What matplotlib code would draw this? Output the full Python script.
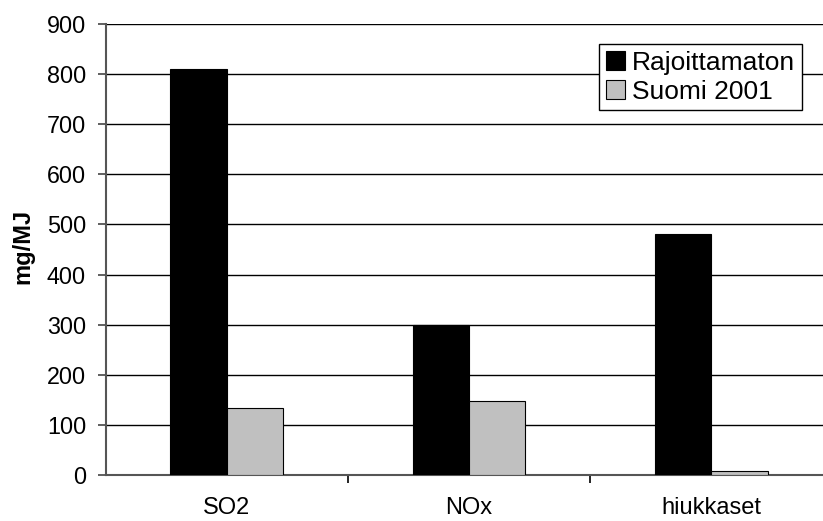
import matplotlib
matplotlib.use("Agg")
import matplotlib.pyplot as plt
import numpy as np

plt.rcParams['font.family'] = ['Liberation Sans', 'DejaVu Sans']

categories = ["SO2", "NOx", "hiukkaset"]
rajoittamaton = [810, 300, 480]
suomi_2001 = [133, 147, 7]
series_names = ["Rajoittamaton", "Suomi 2001"]
y_ticks = [0, 100, 200, 300, 400, 500, 600, 700, 800, 900]

fig = plt.figure(figsize=(8.23, 5.21), dpi=100)
ax = fig.add_axes([105.5 / 823, 46 / 521, 727 / 823, 451 / 521])

x = np.arange(len(categories))
w = 0.232
ax.bar(x - w / 2, rajoittamaton, w, color="black", edgecolor="black", linewidth=0.8,
       label=series_names[0], zorder=3)
ax.bar(x + w / 2, suomi_2001, w, color="#C0C0C0", edgecolor="black", linewidth=0.8,
       label=series_names[1], zorder=3)

ax.set_xlim(-0.5, 2.5)
ax.set_ylim(0, 900)
ax.set_yticks(y_ticks)
ax.yaxis.grid(True, color="black", linewidth=1.0, zorder=0)
ax.set_axisbelow(True)

ax.set_xticks(x)
ax.set_xticklabels(categories)
ax.set_xticks([0.5, 1.5], minor=True)
ax.tick_params(axis="x", which="major", length=0, pad=16, labelsize=17)
ax.tick_params(axis="x", which="minor", length=6, width=1.2, color="black")
ax.tick_params(axis="y", length=6, width=1.2, color="#444444", pad=8, labelsize=16.8)

for s in ["top", "right"]:
    ax.spines[s].set_visible(False)
ax.spines["left"].set_color("#555555")
ax.spines["left"].set_linewidth(1.5)
ax.spines["bottom"].set_color("#555555")
ax.spines["bottom"].set_linewidth(1.5)

fig.text(23 / 823, 1 - 246 / 521, "mg/MJ", rotation=90, ha="center", va="center",
         fontsize=17, fontweight="bold")

leg = ax.legend(loc="upper left", bbox_to_anchor=(599 / 823, 1 - 44 / 521),
                bbox_transform=fig.transFigure, fontsize=19, frameon=True,
                fancybox=False, framealpha=1, edgecolor="black",
                handlelength=0.75, handleheight=0.75, handletextpad=0.25,
                borderpad=0.25, labelspacing=0.2, borderaxespad=0)
leg.get_frame().set_linewidth(1.0)

fig.savefig("out.png", dpi=100)
